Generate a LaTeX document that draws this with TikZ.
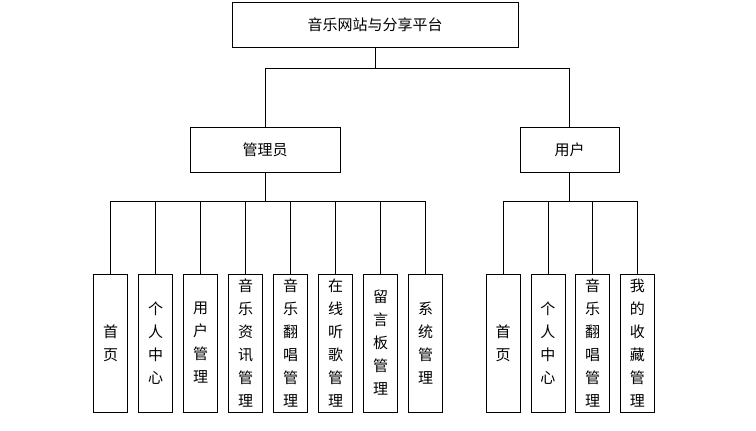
\documentclass[tikz,border=0pt]{standalone}
\usepackage{fontspec}
\setmainfont{Noto Sans CJK SC}
\begin{document}
\begin{tikzpicture}[x=1pt,y=-1pt,line width=0.8pt,
  box/.style={draw,minimum width=#1,minimum height=45pt,inner sep=0pt,font=\fontsize{15}{17}\selectfont},
  leaf/.style={draw,minimum width=34pt,minimum height=138pt,inner sep=0pt,
    align=center,font=\fontsize{15}{23}\selectfont}]
\useasboundingbox (0,0) rectangle (756,431);

% top levels
\node[box=286pt] (root) at (375,24.5) {音乐网站与分享平台};
\node[box=150pt] (admin) at (265,149.5) {管理员};
\node[box=99pt] (user) at (569.5,149.5) {用户};

\draw (root.south) -- (375,68) -| (admin.north);
\draw (375,68) -| (user.north);

% admin leaves
\foreach \t [count=\i] in {{首\\页},{个\\人\\中\\心},{用\\户\\管\\理},{音\\乐\\资\\讯\\管\\理},
    {音\\乐\\翻\\唱\\管\\理},{在\\线\\听\\歌\\管\\理},{留\\言\\板\\管\\理},{系\\统\\管\\理}}
  \node[leaf] (a\i) at ({65.5+45*\i},343) {\t};
\draw (admin.south) -- (265,201);
\draw (a1.north) |- (a8.north |- 0,201) -- (a8.north);
\foreach \i in {2,...,7} \draw (a\i.north) -- (a\i.north |- 0,201);

% user leaves
\foreach \t [count=\i] in {{首\\页},{个\\人\\中\\心},{音\\乐\\翻\\唱\\管\\理},{我\\的\\收\\藏\\管\\理}}
  \node[leaf] (u\i) at ({458.5+44.7*\i},343) {\t};
\draw (user.south) -- (569.5,201);
\draw (u1.north) |- (u4.north |- 0,201) -- (u4.north);
\foreach \i in {2,3} \draw (u\i.north) -- (u\i.north |- 0,201);
\end{tikzpicture}
\end{document}
